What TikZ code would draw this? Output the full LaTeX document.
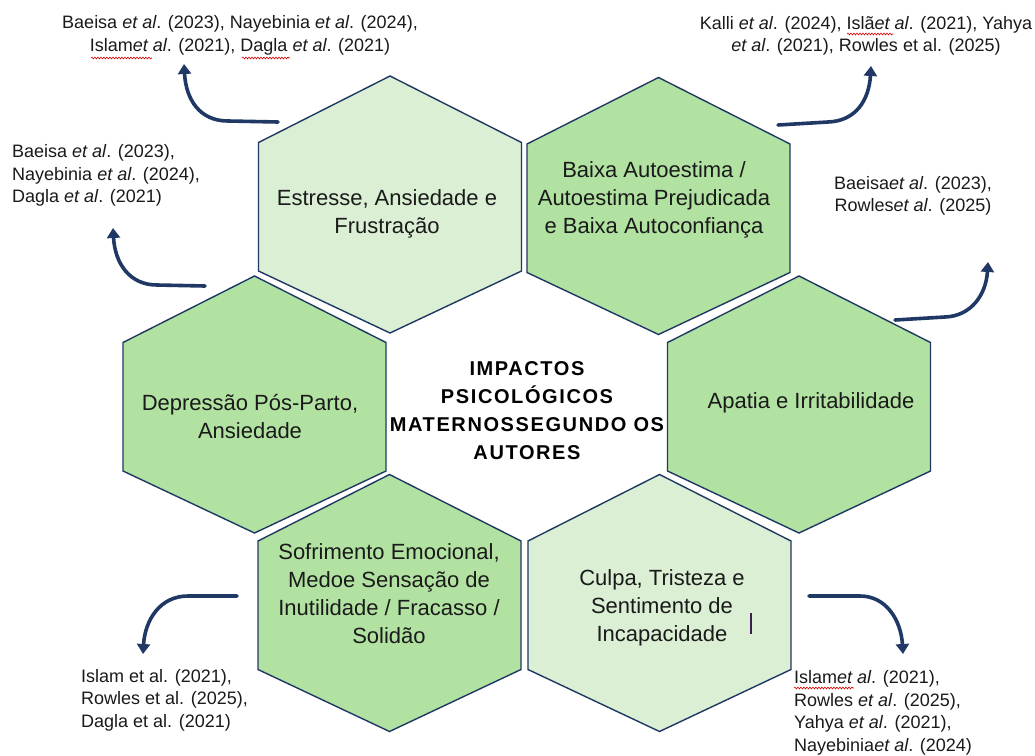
\documentclass[tikz,border=0pt]{standalone}
\usepackage{fontspec}
\setmainfont{Liberation Sans}
\newfontfamily\ctrfont[LetterSpace=8]{Liberation Sans}
\usetikzlibrary{arrows.meta,decorations.pathmorphing}
\definecolor{navy}{HTML}{1F3864}
\definecolor{hexdark}{HTML}{B2E2A2}
\definecolor{hexlight}{HTML}{DAEFD3}
\definecolor{inktext}{HTML}{1A1A1A}
\definecolor{cursorcol}{HTML}{3B1F4F}
\newcommand{\hexshape}[3]{%
  \draw[hexborder, fill=#3, shift={(#1,#2)}]
    (0,-128.5) -- (131.5,-62) -- (131.5,66.5) -- (0,128.5)
    -- (-131.5,66.5) -- (-131.5,-62) -- cycle;}
\tikzset{
  hexborder/.style={draw=navy, line width=1.4pt, line join=miter},
  hextext/.style={align=center, inner sep=0pt, text=inktext,
    font=\fontsize{22}{28}\selectfont},
  centertext/.style={align=center, inner sep=0pt, text=black,
    font=\ctrfont\bfseries\fontsize{20}{28.2}\selectfont},
  cite/.style={inner sep=0pt, text=inktext,
    font=\fontsize{18}{22.6}\selectfont},
  arr/.style={draw=navy, line width=3.6pt, line cap=round,
    -{Triangle[width=13pt,length=10pt]}},
  spell/.style={draw=red!85!black, line width=0.6pt, decorate,
    decoration={snake, amplitude=0.9pt, segment length=3pt}}
}
\begin{document}
\begin{tikzpicture}[x=1pt,y=-1pt]
\useasboundingbox[fill=white] (0,0) rectangle (1035,755);

% hexagons
\hexshape{390}{204.5}{hexlight}
\hexshape{658.5}{206}{hexdark}
\hexshape{254.5}{404.5}{hexdark}
\hexshape{799}{404.5}{hexdark}
\hexshape{389.5}{603}{hexdark}
\hexshape{659.5}{603}{hexlight}

% hexagon texts
\node[hextext] (estresse) at (387,214) {Estresse, Ansiedade e\\Frustração};
\node[hextext] (baixa) at (654,200) {Baixa Autoestima /\\Autoestima Prejudicada\\e Baixa Autoconfiança};
\node[hextext] (depressao) at (250,416.5) {Depressão Pós-Parto,\\Ansiedade};
\node[hextext] (apatia) at (811,403) {Apatia e Irritabilidade};
\node[hextext] (sofrimento) at (389,594) {Sofrimento Emocional,\\Medoe Sensação de\\Inutilidade / Fracasso /\\Solidão};
\node[hextext] (culpa) at (662,608) {Culpa, Tristeza e\\Sentimento de\\Incapacidade};
\node[centertext] (centro) at (527,410.5) {IMPACTOS\\PSICOLÓGICOS\\MATERNOSSEGUNDO OS\\AUTORES};

% cursor mark
\coordinate (cura) at (751,613);
\coordinate (curb) at (751,634);
\draw[cursorcol, line width=1.2pt] (cura) -- (curb);

% citations
\node[cite, align=center] (c1) at (240,35.5) {Baeisa \textit{et al}. (2023), Nayebinia \textit{et al}. (2024),\\Islam\textit{et al}. (2021), Dagla \textit{et al}. (2021)};
\node[cite, align=left, anchor=west] (c2) at (12,175.7) {Baeisa \textit{et al}. (2023),\\Nayebinia \textit{et al}. (2024),\\Dagla \textit{et al}. (2021)};
\node[cite, align=center] (c3) at (866,36) {Kalli \textit{et al}. (2024), Islã\textit{et al}. (2021), Yahya\\\textit{et al}. (2021), Rowles et al. (2025)};
\node[cite, align=center] (c4) at (913,196) {Baeisa\textit{et al}. (2023),\\Rowles\textit{et al}. (2025)};
\node[cite, align=left, anchor=west] (c5) at (81,700) {Islam et al. (2021),\\Rowles et al. (2025),\\Dagla et al. (2021)};
\node[cite, align=left, anchor=west] (c6) at (794,713) {Islam\textit{et al}. (2021),\\Rowles \textit{et al}. (2025),\\Yahya \textit{et al}. (2021),\\Nayebinia\textit{et al}. (2024)};

% spell-check marks
\draw[spell] (91,58) -- (152,58);
\draw[spell] (242,58) -- (290,58);
\draw[spell] (847,34) -- (893,34);
\draw[spell] (794,688) -- (854,688);

% arrows
\coordinate (s1) at (278,122); \coordinate (m1) at (228,121); \coordinate (e1) at (184,64);
\coordinate (s2) at (205,286); \coordinate (m2) at (157,285); \coordinate (e2) at (113,228);
\coordinate (s3) at (778,125); \coordinate (m3) at (828,122); \coordinate (e3) at (871,66);
\coordinate (s4) at (895,320); \coordinate (m4) at (945,317); \coordinate (e4) at (988,262);
\coordinate (s5) at (237,596); \coordinate (m5) at (188,596); \coordinate (e5) at (143,654);
\coordinate (s6) at (809,596); \coordinate (m6) at (860,596); \coordinate (e6) at (903,654);

\draw[arr] (s1) -- (m1) .. controls (200,121) and (186,100) .. (e1);
\draw[arr] (s2) -- (m2) .. controls (130,285) and (115,264) .. (e2);
\draw[arr] (s3) -- (m3) .. controls (856,121) and (869,100) .. (e3);
\draw[arr] (s4) -- (m4) .. controls (971,316) and (986,295) .. (e4);
\draw[arr] (s5) -- (m5) .. controls (160,596) and (145,620) .. (e5);
\draw[arr] (s6) -- (m6) .. controls (886,596) and (901,620) .. (e6);
\end{tikzpicture}
\end{document}
